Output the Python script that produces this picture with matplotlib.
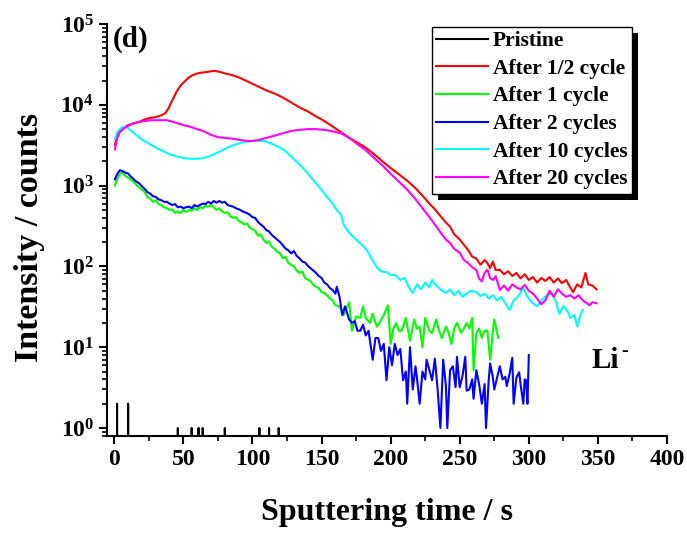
import numpy as np
import matplotlib
matplotlib.use('Agg')
import matplotlib.pyplot as plt
from matplotlib.patches import Rectangle
from matplotlib.transforms import IdentityTransform
from matplotlib.ticker import FixedLocator, LogLocator, FuncFormatter, MultipleLocator

plt.rcParams['font.family'] = 'Liberation Serif'
plt.rcParams['font.weight'] = 'bold'
plt.rcParams['mathtext.fontset'] = 'custom'
plt.rcParams['mathtext.rm'] = 'Liberation Serif:bold'
plt.rcParams['mathtext.bf'] = 'Liberation Serif:bold'
plt.rcParams['mathtext.it'] = 'Liberation Serif:bold:italic'
plt.rcParams['mathtext.default'] = 'bf'

# Pristine: only a few counts, zero elsewhere
pristine_spike_t = [2, 10, 46, 56, 61, 64, 80, 105, 112, 119]
pristine_spike_v = [2, 2, 1, 1, 1, 1, 1, 1, 1, 1]

# After 1/2 cycle
t_half = [0.5, 2, 4, 7, 10, 14, 18, 22, 26, 30, 34, 37, 39, 41, 43, 45, 48, 51, 54, 57,
          60, 64, 68, 72, 76, 80, 85, 90, 95, 100, 105, 110, 116, 122, 128, 134, 140, 146,
          152, 158, 164, 170, 176, 182, 188, 194, 200, 206, 212, 218, 224, 228, 232, 236,
          240, 243, 246, 250, 253, 256, 259, 262, 265, 268, 270, 272, 274, 276, 279, 282,
          285, 288, 291, 294, 297, 300, 303, 306, 309, 312, 315, 318, 321, 324, 327, 330,
          332, 335, 338, 341, 343, 346, 349]
i_half = [3200, 4200, 4800, 5250, 5600, 5900, 6150, 6600, 6900, 7050, 7400, 7900, 8900,
          10500, 12300, 14500, 17400, 19500, 21900, 23400, 24500, 25100, 25700, 26300,
          25700, 24500, 23400, 21900, 20000, 18200, 16600, 15100, 13800, 12300, 10700,
          9300, 8300, 7200, 6300, 5400, 4600, 3900, 3400, 2950, 2450, 2000, 1650, 1380,
          1150, 930, 720, 600, 510, 420, 350, 310, 250, 215, 185, 160, 132, 125, 105, 120,
          110, 95, 115, 90, 91, 80, 87, 76, 83, 71, 80, 68, 74, 63, 72, 66, 74, 63, 71, 62,
          68, 55, 48, 60, 55, 83, 60, 58, 52]

# After 1 cycle
t_1 = [0.5, 2, 4, 6, 8, 10, 12, 14, 16, 18, 20, 22, 24, 26, 28, 30, 32, 34, 36, 38, 40,
       42, 44, 46, 48, 50, 52, 54, 56, 58, 60, 62, 64, 66, 68, 70, 72, 74, 76, 78, 80, 82,
       84, 86, 88, 90, 92, 94, 96, 98, 100, 102, 104, 106, 108, 110, 112, 114, 116, 118,
       120, 122, 124, 126, 128, 130, 132, 134, 136, 138, 140, 142, 144, 146, 148, 150,
       152, 154, 156, 158, 160, 163, 166, 168, 170, 172, 175, 178, 180, 182, 185, 187,
       190, 192, 195, 198, 200, 202, 204, 206, 208, 211, 214, 217, 219, 221, 223, 225,
       228, 230, 233, 235, 237, 240, 242, 244, 246, 248, 251, 253, 255, 257, 259, 260,
       262, 264, 266, 268, 270, 272, 274, 275, 277, 278]
i_1 = [1000, 1200, 1400, 1450, 1320, 1260, 1170, 1120, 1020, 950, 890, 830, 720, 690, 630,
       660, 590, 575, 540, 525, 500, 510, 457, 480, 457, 500, 470, 500, 490, 525, 500, 540,
       525, 560, 550, 575, 540, 500, 525, 480, 457, 470, 417, 398, 407, 363, 355, 330, 340,
       302, 288, 275, 240, 250, 214, 195, 204, 174, 166, 151, 145, 126, 132, 110, 105, 100,
       89, 83, 87, 72, 69, 66, 59, 56, 54, 48, 47, 44, 40, 38, 33, 32, 25, 30, 36, 16, 24,
       23, 32, 23, 20, 26, 18, 20, 25, 33, 11, 17, 20, 16, 16, 23, 12, 22, 17, 18, 10, 23,
       16, 15, 22, 16, 13, 18, 15, 11, 17, 20, 15, 17, 20, 17, 23, 5.2, 15, 17, 13, 16, 16,
       7, 16, 22, 15, 13]

# After 2 cycles
t_2 = [0.5, 2, 4, 6, 8, 10, 12, 14, 16, 18, 20, 22, 24, 26, 28, 30, 32, 34, 36, 38, 40,
       42, 44, 46, 48, 50, 52, 54, 56, 58, 60, 62, 64, 66, 68, 70, 72, 74, 76, 78, 80, 82,
       84, 86, 88, 90, 92, 94, 96, 98, 100, 102, 104, 106, 108, 110, 112, 114, 116, 118,
       120, 122, 124, 126, 128, 130, 132, 134, 136, 138, 140, 142, 144, 146, 148, 150,
       152, 154, 156, 158, 160, 161, 163, 165, 167, 170, 172, 174, 176, 178, 180, 182,
       184, 187, 189, 191, 193, 195, 197, 199, 201, 203, 205, 207, 209, 211, 212, 214,
       216, 218, 219, 221, 223, 225, 226, 228, 230, 232, 234, 236, 238, 240, 241, 243,
       245, 247, 248, 250, 252, 254, 255, 257, 259, 260, 262, 264, 266, 268, 269, 271,
       272, 274, 275, 277, 279, 281, 283, 284, 286, 288, 289, 291, 293, 294, 296, 297,
       298, 299, 300]
i_2 = [1200, 1380, 1550, 1510, 1450, 1410, 1290, 1200, 1120, 1070, 980, 910, 830, 795, 740,
       725, 676, 660, 630, 630, 600, 575, 590, 540, 550, 525, 540, 550, 525, 575, 550, 575,
       600, 590, 630, 600, 645, 615, 645, 615, 630, 575, 560, 550, 525, 510, 490, 470, 457,
       436, 407, 398, 355, 330, 310, 282, 270, 245, 229, 214, 200, 182, 166, 158, 145, 155,
       135, 126, 115, 112, 102, 95, 89, 83, 76, 72, 63, 60, 54, 51, 46, 56, 42, 25, 32, 22,
       20, 21, 16, 16, 19, 14, 16, 7, 13, 13, 9, 11, 3.9, 10, 6, 11, 8, 9.5, 3.9, 5, 2, 10,
       3, 5.8, 4.2, 2, 5, 4, 7, 5.2, 3.9, 7.2, 3, 1, 7, 3.3, 1, 5.2, 5.8, 3.2, 7.6, 3.2,
       4.4, 7.6, 2.9, 3, 4, 2.3, 5.2, 3.5, 2, 3.5, 1, 4, 6.3, 4.2, 3, 4.2, 5.8, 4, 4.3, 3.3,
       4.6, 7.4, 2, 4.2, 4.9, 3.5, 2, 4, 3.9, 2, 8]

# After 10 cycles
t_10 = [0.5, 2, 4, 6, 8, 10, 12, 15, 18, 22, 26, 30, 35, 40, 45, 50, 55, 60, 65, 70, 76,
        81, 86, 92, 98, 104, 109, 114, 120, 125, 129, 133, 137, 141, 145, 149, 153, 157,
        161, 164, 166, 168, 171, 175, 179, 183, 186, 190, 193, 197, 200, 203, 207, 210,
        213, 216, 219, 222, 225, 228, 230, 233, 236, 240, 243, 246, 249, 252, 255, 258,
        262, 265, 268, 271, 274, 277, 280, 283, 286, 289, 292, 296, 299, 302, 306, 309,
        313, 317, 320, 322, 325, 328, 330, 333, 335, 337, 339]
i_10 = [3800, 4550, 5000, 5250, 5350, 5150, 4800, 4350, 3950, 3550, 3250, 2950, 2700, 2450,
        2300, 2200, 2150, 2150, 2200, 2350, 2630, 2900, 3160, 3400, 3550, 3600, 3550, 3300,
        2950, 2570, 2190, 1900, 1620, 1350, 1120, 930, 760, 630, 500, 436, 330, 290, 250,
        214, 186, 158, 126, 98, 87, 85, 78, 79, 68, 72, 56, 47, 60, 52, 63, 55, 68, 58, 52,
        47, 52, 44, 50, 42, 46, 50, 48, 43, 46, 40, 44, 38, 42, 35, 29, 38, 42, 54, 42, 36,
        32, 38, 44, 47, 35, 26, 32, 28, 23, 25, 18, 24, 29]

# After 20 cycles
t_20 = [0.5, 2, 4, 7, 10, 14, 18, 22, 26, 30, 34, 38, 42, 46, 50, 55, 60, 65, 70, 75, 80,
        86, 92, 98, 104, 110, 116, 122, 128, 134, 140, 146, 152, 158, 164, 170, 176, 182,
        188, 194, 200, 206, 212, 218, 224, 228, 232, 236, 240, 243, 246, 250, 253, 256,
        259, 262, 264, 266, 268, 270, 272, 274, 276, 279, 282, 285, 288, 291, 294, 297,
        300, 303, 306, 309, 312, 315, 318, 321, 324, 327, 330, 333, 336, 339, 342, 344,
        346, 349]
i_20 = [2800, 3800, 4600, 5100, 5500, 5900, 6150, 6300, 6450, 6450, 6450, 6450, 6200, 5900,
        5600, 5350, 5000, 4700, 4250, 3980, 3900, 3800, 3650, 3550, 3650, 3900, 4150, 4450,
        4750, 4900, 5000, 5000, 4900, 4700, 4450, 3900, 3250, 2750, 2200, 1780, 1400, 1120,
        890, 680, 500, 410, 330, 265, 215, 195, 165, 148, 120, 110, 98, 90, 71, 65, 83, 91,
        72, 68, 76, 51, 58, 50, 60, 55, 52, 59, 50, 46, 40, 34, 38, 50, 42, 52, 46, 42, 44,
        40, 44, 38, 35, 33, 36, 35]

labels = ['Pristine', 'After 1/2 cycle', 'After 1 cycle', 'After 2 cycles',
          'After 10 cycles', 'After 20 cycles']
colors = ['#000000', '#ff0000', '#00ff00', '#0000ff', '#00ffff', '#ff00ff']

pristine_t = np.arange(0, 121)
pristine_i = np.zeros(len(pristine_t))
for ts, v in zip(pristine_spike_t, pristine_spike_v):
    pristine_i[ts] = v

fig = plt.figure(figsize=(6.87, 5.34), dpi=100)
ax = fig.add_axes([0.1563, 0.1835, 0.8146, 0.7715])

series = [(pristine_t, pristine_i), (t_half, i_half), (t_1, i_1), (t_2, i_2),
          (t_10, i_10), (t_20, i_20)]
for (tt, ii), lab, c in zip(series, labels, colors):
    ax.plot(tt, ii, '-', color=c, lw=1.5, label=lab)

ax.set_yscale('log')
ax.set_xlim(-5, 400)
ax.set_ylim(0.796, 1e5)
ax.xaxis.set_major_locator(MultipleLocator(50))
ax.xaxis.set_minor_locator(MultipleLocator(25))
ax.yaxis.set_major_locator(FixedLocator([1, 10, 100, 1e3, 1e4, 1e5]))
ax.yaxis.set_minor_locator(LogLocator(base=10, subs=np.arange(2, 10)))
ax.yaxis.set_major_formatter(FuncFormatter(lambda v, p: r'$10^{%d}$' % round(np.log10(v))))

for s in ['top', 'right']:
    ax.spines[s].set_visible(False)
for s in ['left', 'bottom']:
    ax.spines[s].set_linewidth(1.5)
ax.tick_params(which='major', direction='out', length=6, width=1.5, labelsize=17)
ax.tick_params(which='minor', direction='out', length=3.5, width=1.2)

ax.set_xlabel('Sputtering time / s', fontsize=23, fontweight='bold', labelpad=20)
ax.set_ylabel('Intensity / counts', fontsize=24.5, fontweight='bold')
ax.yaxis.set_label_coords(-0.112, 0.483)

ax.text(0.01, 0.995, '(d)', transform=ax.transAxes, fontsize=21, fontweight='bold',
        va='top', ha='left')
ax.text(345, 5.6, 'Li', fontsize=21, fontweight='bold', ha='left', va='baseline')
ax.annotate('-', xy=(345, 5.6), xytext=(21.5, 8), textcoords='offset points',
            fontsize=14, fontweight='bold', ha='left', va='baseline')

leg = ax.legend(loc='upper right', bbox_to_anchor=(0.9375, 0.993), borderaxespad=0,
                frameon=True, fancybox=False, framealpha=1,
                edgecolor='black', handlelength=2.4, handletextpad=0.25,
                labelspacing=0.35, borderpad=0.2, prop={'weight': 'bold', 'size': 15.5})
leg.get_frame().set_linewidth(1.0)

fig.canvas.draw()
bb = leg.get_frame().get_window_extent()
shadow = Rectangle((bb.x0 + 6, bb.y0 - 6), bb.width, bb.height, transform=IdentityTransform(),
                   facecolor='black', edgecolor='none', zorder=4.5, clip_on=False)
ax.add_artist(shadow)
leg.set_zorder(5)

fig.savefig('out.png', dpi=100)
